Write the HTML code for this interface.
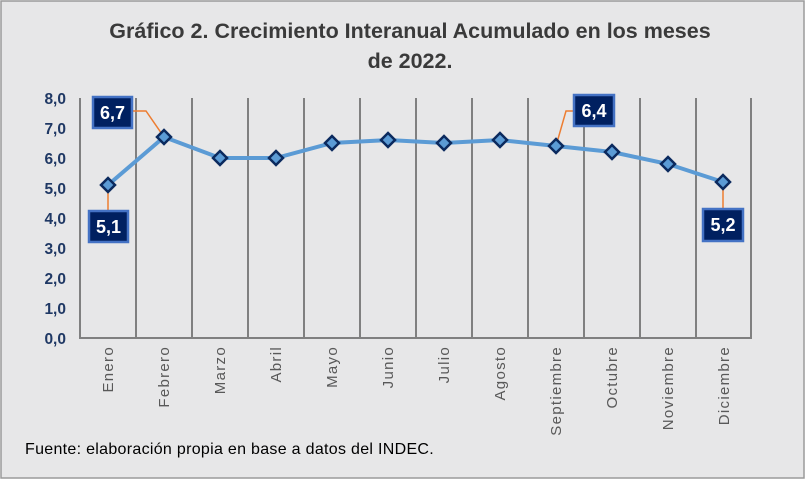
<!DOCTYPE html>
<html><head><meta charset="utf-8"><style>
body{margin:0;background:#fff}
svg{display:block;font-family:"Liberation Sans",sans-serif}
</style></head><body>
<svg width="805" height="479" viewBox="0 0 805 479">
<rect x="1" y="1" width="803" height="477" fill="#e7e7e8" stroke="#9a9a9a" stroke-width="1.5"/>
<text x="410" y="38" text-anchor="middle" font-size="21.5" font-weight="bold" fill="#3a3a3a">Gráfico 2. Crecimiento Interanual Acumulado  en los meses</text>
<text x="410" y="68" text-anchor="middle" font-size="21.5" font-weight="bold" fill="#3a3a3a">de 2022.</text>
<g stroke="#808080" stroke-width="2">
<line x1="80" y1="98" x2="80" y2="338"/><line x1="136" y1="98" x2="136" y2="338"/><line x1="192" y1="98" x2="192" y2="338"/><line x1="248" y1="98" x2="248" y2="338"/><line x1="304" y1="98" x2="304" y2="338"/><line x1="360" y1="98" x2="360" y2="338"/><line x1="416" y1="98" x2="416" y2="338"/><line x1="472" y1="98" x2="472" y2="338"/><line x1="528" y1="98" x2="528" y2="338"/><line x1="584" y1="98" x2="584" y2="338"/><line x1="640" y1="98" x2="640" y2="338"/><line x1="696" y1="98" x2="696" y2="338"/><line x1="751" y1="98" x2="751" y2="338"/>
<line x1="79" y1="338" x2="752" y2="338"/>
</g>
<g font-size="15.5" font-weight="bold" fill="#1f3864" text-anchor="end">
<text x="66" y="104">8,0</text><text x="66" y="134">7,0</text><text x="66" y="164">6,0</text><text x="66" y="194">5,0</text><text x="66" y="224">4,0</text><text x="66" y="254">3,0</text><text x="66" y="284">2,0</text><text x="66" y="314">1,0</text><text x="66" y="344">0,0</text>
</g>
<g font-size="15" fill="#595959" text-anchor="end" letter-spacing="1.3">
<text transform="translate(113,346) rotate(-90)">Enero</text>
<text transform="translate(169,346) rotate(-90)">Febrero</text>
<text transform="translate(225,346) rotate(-90)">Marzo</text>
<text transform="translate(281,346) rotate(-90)">Abril</text>
<text transform="translate(337,346) rotate(-90)">Mayo</text>
<text transform="translate(393,346) rotate(-90)">Junio</text>
<text transform="translate(449,346) rotate(-90)">Julio</text>
<text transform="translate(505,346) rotate(-90)">Agosto</text>
<text transform="translate(561,346) rotate(-90)">Septiembre</text>
<text transform="translate(617,346) rotate(-90)">Octubre</text>
<text transform="translate(673,346) rotate(-90)">Noviembre</text>
<text transform="translate(729,346) rotate(-90)">Diciembre</text>
</g>
<g stroke="#ed7d31" stroke-width="1.5" fill="none">
<polyline points="164,137 146,111 132,111"/>
<polyline points="108,185 108,211"/>
<polyline points="556,146 566,111 573,111"/>
<polyline points="723,182 723,208"/>
</g>
<polyline fill="none" stroke="#5b9bd5" stroke-width="4" points="108,185 164,137 220,158 276,158 332,143 388,140 444,143 500,140 556,146 612,152 668,164 723,182"/>
<g fill="#5b9bd5" stroke="#0b2a5e" stroke-width="2.5">
<path d="M108,178l7,7l-7,7l-7,-7z"/><path d="M164,130l7,7l-7,7l-7,-7z"/><path d="M220,151l7,7l-7,7l-7,-7z"/><path d="M276,151l7,7l-7,7l-7,-7z"/><path d="M332,136l7,7l-7,7l-7,-7z"/><path d="M388,133l7,7l-7,7l-7,-7z"/><path d="M444,136l7,7l-7,7l-7,-7z"/><path d="M500,133l7,7l-7,7l-7,-7z"/><path d="M556,139l7,7l-7,7l-7,-7z"/><path d="M612,145l7,7l-7,7l-7,-7z"/><path d="M668,157l7,7l-7,7l-7,-7z"/><path d="M723,175l7,7l-7,7l-7,-7z"/>
</g>
<g fill="#002060" stroke="#4472c4" stroke-width="2.5">
<rect x="93" y="97" width="39" height="31"/>
<rect x="89" y="211" width="39" height="31"/>
<rect x="574" y="95" width="40" height="31"/>
<rect x="703" y="209" width="40" height="32"/>
</g>
<g font-size="18" font-weight="bold" fill="#fff" text-anchor="middle">
<text x="112.5" y="119">6,7</text><text x="108.5" y="233">5,1</text><text x="594" y="117">6,4</text><text x="723" y="231">5,2</text>
</g>
<text x="25" y="454" font-size="16" fill="#000" letter-spacing="0.3">Fuente: elaboración propia en base a datos del INDEC.</text>
</svg>
</body></html>
